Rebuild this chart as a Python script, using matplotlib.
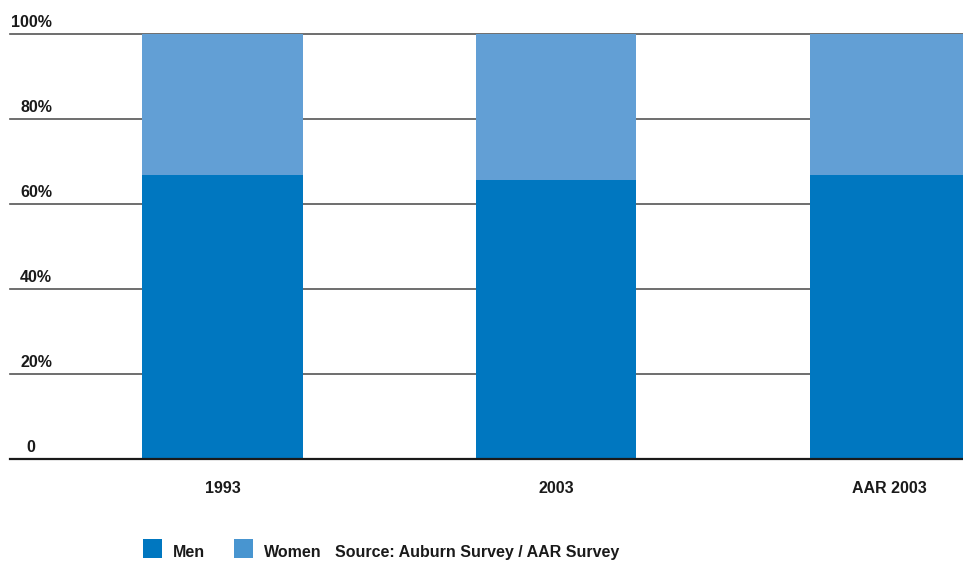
import matplotlib
matplotlib.use("Agg")
import matplotlib.pyplot as plt
from matplotlib.patches import Rectangle
import matplotlib.transforms as mtransforms

# Share of respondents by gender (percent)
categories = ["1993", "2003", "AAR 2003"]
men = [66.8, 65.6, 66.8]
women = [100 - m for m in men]
y_ticks = [0, 20, 40, 60, 80, 100]
y_tick_labels = ["0", "20%", "40%", "60%", "80%", "100%"]
series_names = ["Men", "Women"]
source_text = "Source: Auburn Survey / AAR Survey"

MEN_COLOR = "#0077C0"
WOMEN_COLOR = "#629FD5"
LEGEND_COLORS = [MEN_COLOR, "#4895D0"]
FONT = ["Liberation Sans", "DejaVu Sans"]
TEXT_COLOR = "#1a1a1a"
FS = 11.5

W, H, DPI = 963, 561, 100
fig = plt.figure(figsize=(W / DPI, H / DPI), dpi=DPI)

def fx(px):
    return px / W

def fy(py):
    return (H - py) / H

# plotting area: left 10px, right 963px, zero line y=459px, top line y=34px
ax = fig.add_axes([fx(10), fy(459), fx(963) - fx(10), fy(34) - fy(459)])
x = list(range(len(categories)))
bar_w = 0.48
ax.bar(x, men, width=bar_w, color=MEN_COLOR, zorder=3, linewidth=0)
ax.bar(x, women, width=bar_w, bottom=men, color=WOMEN_COLOR, zorder=3, linewidth=0)

ax.set_xlim(-0.637, 2.22)
ax.set_ylim(0, 100)
for s in ax.spines.values():
    s.set_visible(False)
ax.set_xticks([])
ax.set_yticks([])

# horizontal gridlines
for t in y_ticks:
    lw = 1.6 if t == 0 else 1.2
    col = "#1a1a1a" if t == 0 else "#555555"
    ax.axhline(t, color=col, linewidth=lw, zorder=2 if t else 4, clip_on=False)

# y labels sit just above their gridlines
trans = mtransforms.blended_transform_factory(fig.transFigure, ax.transData)
shift = mtransforms.ScaledTranslation(0, 7 / DPI, fig.dpi_scale_trans)
for t, lab in zip(y_ticks, y_tick_labels):
    xr = fx(52) if lab.endswith("%") else fx(35)
    ax.text(xr, t, lab, transform=trans + shift, ha="right", va="baseline",
            fontsize=FS, fontweight="bold", family=FONT, color=TEXT_COLOR)

# category labels below the axis
xtrans = mtransforms.blended_transform_factory(ax.transData, fig.transFigure)
for xi, c in zip(x, categories):
    ax.text(xi, fy(493), c, transform=xtrans, ha="center", va="baseline",
            fontsize=FS, fontweight="bold", family=FONT, color=TEXT_COLOR)

# legend keys and labels along the bottom
for name, col, px_sq in zip(series_names, LEGEND_COLORS, [143, 234]):
    fig.patches.append(Rectangle((fx(px_sq), fy(558)), fx(19), 19 / H,
                                 transform=fig.transFigure, facecolor=col,
                                 edgecolor="none"))
    fig.text(fx(px_sq + 30), fy(557), name, ha="left", va="baseline",
             fontsize=FS, fontweight="bold", family=FONT, color=TEXT_COLOR)
fig.text(fx(335), fy(557), source_text, ha="left", va="baseline",
         fontsize=FS, fontweight="bold", family=FONT, color=TEXT_COLOR)

fig.savefig("out.png", dpi=DPI)
